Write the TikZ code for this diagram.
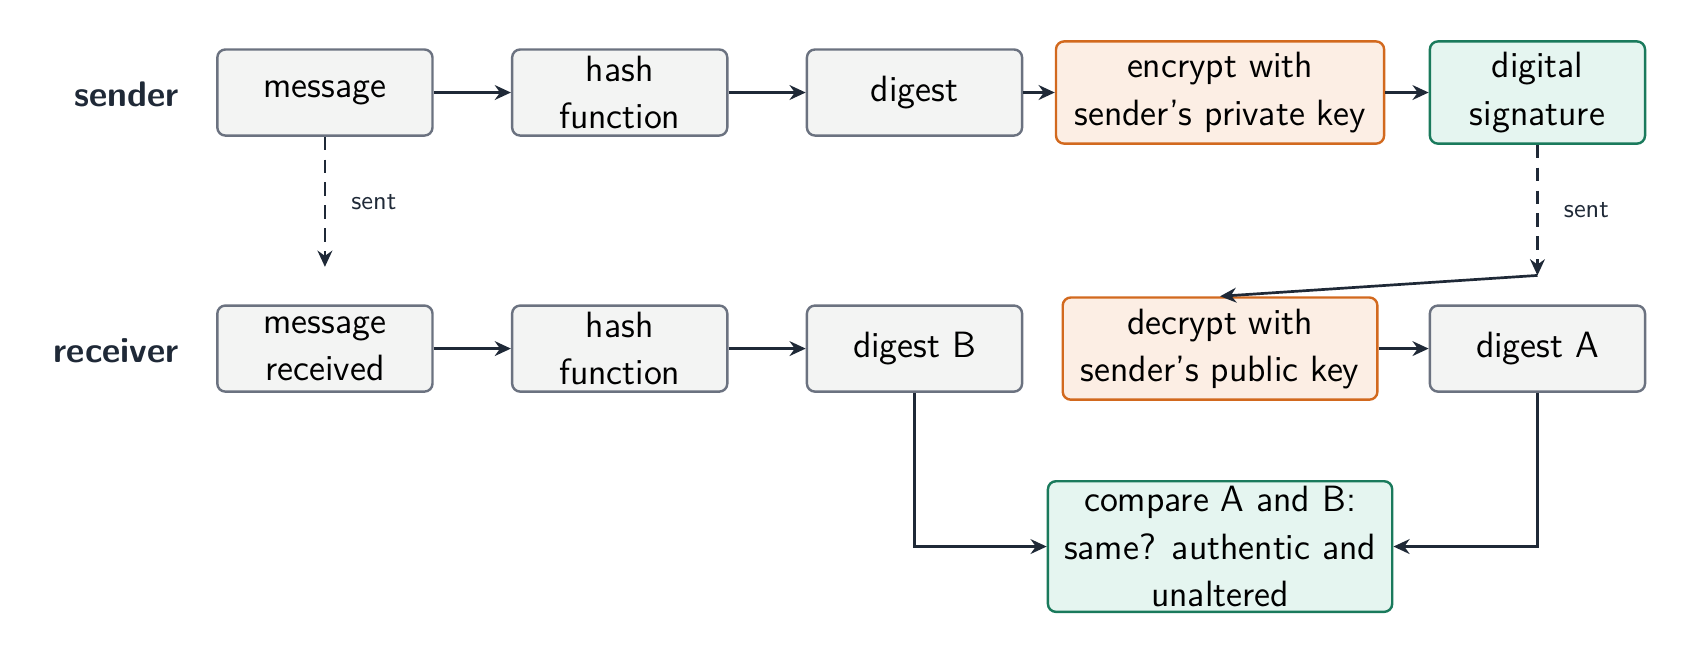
\documentclass[tikz,border=0pt]{standalone}
\usepackage{amsmath}
\usetikzlibrary{arrows.meta}
\definecolor{boxgray}{HTML}{F3F4F3}
\definecolor{linegray}{HTML}{6B7280}
\definecolor{boxorange}{HTML}{FCEEE4}
\definecolor{lineorange}{HTML}{D2691E}
\definecolor{boxgreen}{HTML}{E5F5F0}
\definecolor{linegreen}{HTML}{1A7A5C}
\definecolor{ink}{HTML}{1F2937}
\tikzset{
  stepbox/.style={draw=linegray, fill=boxgray, rounded corners=3pt, line width=0.9pt, align=center,
    minimum width=80pt, minimum height=32pt, inner sep=2pt, font=\sffamily\fontsize{13.6}{17.5}\selectfont, text=black},
  keybox/.style={stepbox, draw=lineorange, fill=boxorange, minimum height=38pt},
  signbox/.style={stepbox, draw=linegreen, fill=boxgreen, minimum height=38pt},
  flow/.style={draw=ink, line width=1pt, -{Stealth[length=6pt,width=5.5pt]}},
  sentflow/.style={flow, dash pattern=on 5pt off 3.5pt},
  rolelabel/.style={font=\sffamily\bfseries\fontsize{13.2}{15}\selectfont, text=ink},
  sentlabel/.style={font=\sffamily\fontsize{9.8}{11}\selectfont, text=ink}
}
\begin{document}
\begin{tikzpicture}[x=0.4pt, y=-0.4pt]
      \useasboundingbox (0,0) rectangle (1568,612);
      \node[rolelabel] (sender) at (118,88) {sender};
      \node[rolelabel] (receiver) at (108,326) {receiver};

      \node[stepbox] (msg) at (302,86) {message};
      \node[stepbox] (hash1) at (576,86) {hash\\function};
      \node[stepbox] (dig) at (850,86) {digest};
      \node[keybox, minimum width=122pt] (enc) at (1134,86) {encrypt with\\sender's private key};
      \node[signbox] (sig) at (1429,86) {digital\\signature};

      \node[stepbox] (msgr) at (302,324) {message\\received};
      \node[stepbox] (hash2) at (576,324) {hash\\function};
      \node[stepbox] (digb) at (850,324) {digest B};
      \node[keybox, minimum width=117pt] (dec) at (1134,324) {decrypt with\\sender's public key};
      \node[stepbox] (diga) at (1429,324) {digest A};
      \node[signbox, minimum width=128pt] (cmp) at (1134,508) {compare A and B:\\same? authentic and\\unaltered};

      \coordinate (msgend) at (302,248);
      \coordinate (sigbend) at (1429,256);
      \coordinate (bturn) at (850,508);
      \coordinate (aturn) at (1429,508);

      \draw[flow] (msg) -- (hash1);
      \draw[flow] (hash1) -- (dig);
      \draw[flow] (dig) -- (enc);
      \draw[flow] (enc) -- (sig);
      \draw[sentflow] (msg) -- node[sentlabel, right=6pt] {sent} (msgend);
      \draw[sentflow] (sig) -- node[sentlabel, right=6pt] {sent} (sigbend);
      \draw[flow] (sigbend) -- (dec.north);

      \draw[flow] (msgr) -- (hash2);
      \draw[flow] (hash2) -- (digb);
      \draw[flow] (dec) -- (diga);
      \draw[flow] (digb) -- (bturn) -- (cmp);
      \draw[flow] (diga) -- (aturn) -- (cmp);
    \end{tikzpicture}
\end{document}
